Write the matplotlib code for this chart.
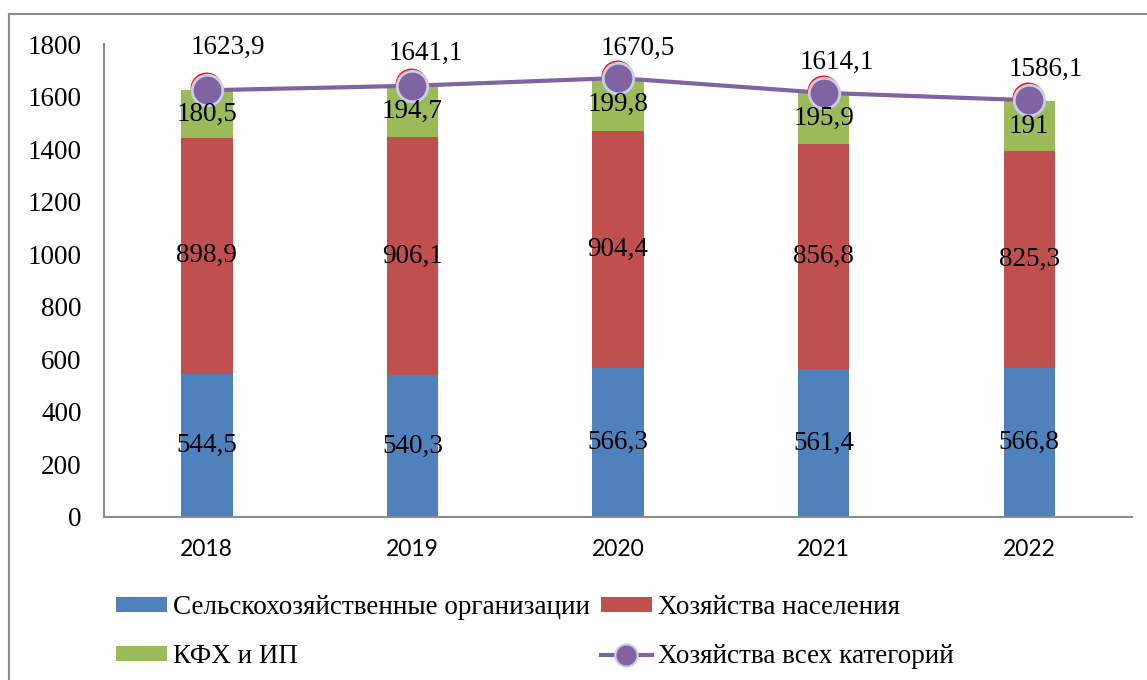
import matplotlib
matplotlib.use("Agg")
import matplotlib.pyplot as plt
import matplotlib.transforms as mtransforms
from matplotlib.lines import Line2D
import numpy as np

# data
years = ["2018", "2019", "2020", "2021", "2022"]
agri_orgs = [544.5, 540.3, 566.3, 561.4, 566.8]
households = [898.9, 906.1, 904.4, 856.8, 825.3]
farms = [180.5, 194.7, 199.8, 195.9, 191]
all_cats = [1623.9, 1641.1, 1670.5, 1614.1, 1586.1]
y_ticks = [0, 200, 400, 600, 800, 1000, 1200, 1400, 1600, 1800]

# label offsets for the total line (pixels), picked by eye
total_offsets = [(21, 43), (13, 32), (20, 30), (13, 30), (17, 31)]

c_blue = "#4F81BD"
c_red = "#C0504D"
c_green = "#9BBB59"
c_purple = "#8064A2"
serif = "Liberation Serif"
fs = 19.5

def fmt(v):
    s = ("%.1f" % v).rstrip("0").rstrip(".")
    return s.replace(".", ",")

fig = plt.figure(figsize=(11.47, 6.8), dpi=100)
ax = fig.add_axes([104/1147, 1-517/680, (1132-104)/1147, (517-44)/680])

x = np.arange(len(years))
w = 0.25
b1 = ax.bar(x, agri_orgs, w, color=c_blue, label="Сельскохозяйственные организации", zorder=2)
bottom2 = np.array(agri_orgs)
b2 = ax.bar(x, households, w, bottom=bottom2, color=c_red, label="Хозяйства населения", zorder=2)
bottom3 = bottom2 + np.array(households)
b3 = ax.bar(x, farms, w, bottom=bottom3, color=c_green, label="КФХ и ИП", zorder=2)

for vals, bots in [(agri_orgs, np.zeros(len(x))), (households, bottom2), (farms, bottom3)]:
    for xi, v, b in zip(x, vals, bots):
        ax.text(xi, b + v/2, fmt(v), ha="center", va="center",
                fontsize=fs, family=serif, zorder=5)

# total line, with a red rim peeking above each marker
ax.plot(x, all_cats, color=c_purple, lw=3, zorder=3, solid_capstyle="round")
shift = mtransforms.offset_copy(ax.transData, fig=fig, x=-1, y=2, units="dots")
ax.plot(x, all_cats, "o", ms=23, color="#FF1010", mec="#FF1010", mew=0, transform=shift, zorder=3.5)
ax.plot(x, all_cats, "o", ms=22, color=c_purple, mec="#C9CFE8", mew=2, zorder=4)

for xi, v, (dx, dy) in zip(x, all_cats, total_offsets):
    ax.annotate(fmt(v), (xi, v), xytext=(dx, dy), textcoords="offset pixels",
                ha="center", va="center", fontsize=fs, family=serif, zorder=6)

ax.set_xlim(-0.5, len(x) - 0.5)
ax.set_ylim(0, 1800)
ax.set_yticks(y_ticks)
ax.set_yticklabels([str(t) for t in y_ticks], fontsize=fs, family=serif)
ax.set_xticks(x)
ax.set_xticklabels(years, fontsize=16.5, family="Lato")
ax.tick_params(axis="y", length=0, pad=16)
ax.tick_params(axis="x", length=0, pad=16)
for s in ["top", "right"]:
    ax.spines[s].set_visible(False)
for s in ["left", "bottom"]:
    ax.spines[s].set_color("#8C8C8C")
    ax.spines[s].set_linewidth(1.5)

# legend
line_handle = Line2D([], [], color=c_purple, lw=3, marker="o", ms=16,
                     mfc=c_purple, mec="#C9CFE8", mew=1.5)
handles = [b1, b3, b2, line_handle]
labels = ["Сельскохозяйственные организации", "КФХ и ИП",
          "Хозяйства населения", "Хозяйства всех категорий"]
fig.legend(handles, labels, ncol=2, loc="upper left",
           bbox_to_anchor=(116/1147, 1-595/680), frameon=False,
           prop={"family": serif, "size": fs}, handlelength=1.9,
           handleheight=0.5, handletextpad=0.2, columnspacing=0.4,
           labelspacing=0.9, borderpad=0, borderaxespad=0)

# chart area frame (only top and left visible)
fig.add_artist(Line2D([9/1147, 9/1147], [0, 1-14/680], color="#8C8C8C", lw=1.5,
                      transform=fig.transFigure))
fig.add_artist(Line2D([9/1147, 1], [1-14/680, 1-14/680], color="#8C8C8C", lw=1.5,
                      transform=fig.transFigure))

fig.savefig("out.png", dpi=100)
